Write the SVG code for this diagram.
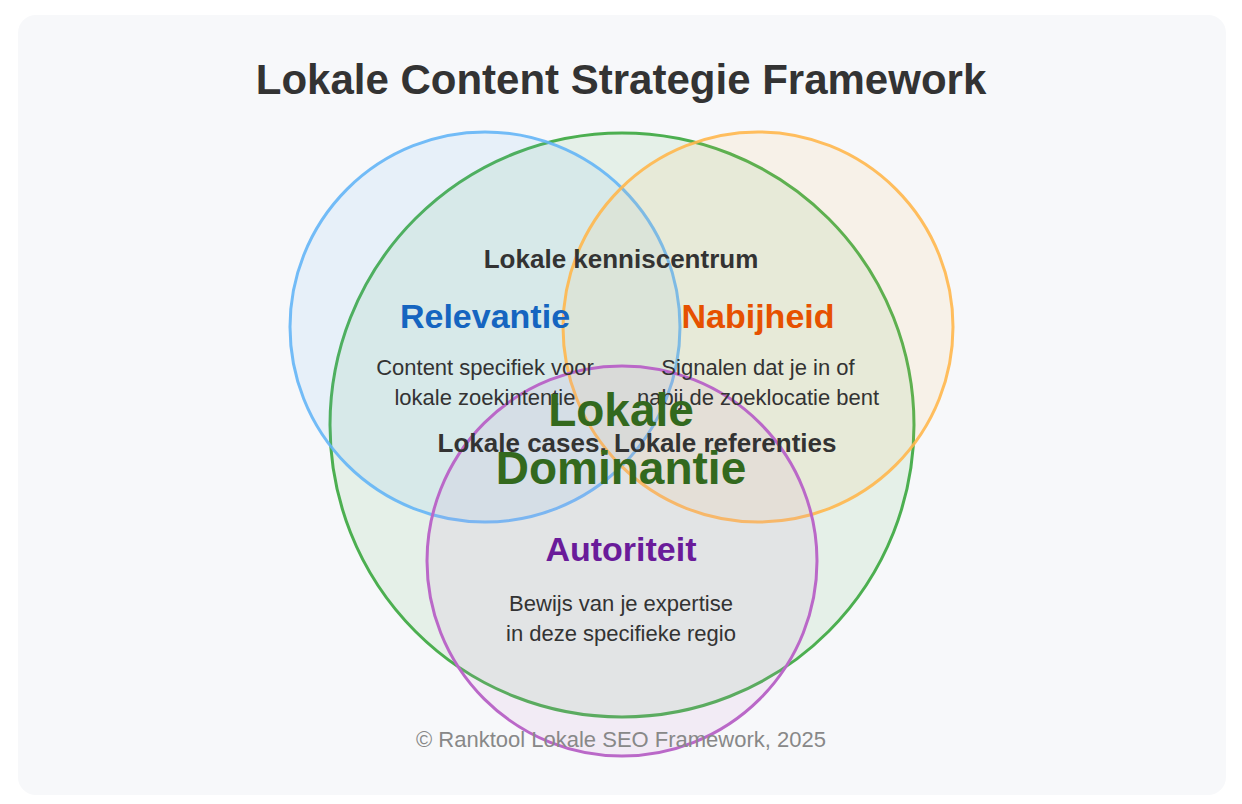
<svg xmlns="http://www.w3.org/2000/svg" width="1242" height="804" viewBox="0 0 1242 804">
<style>
text{font-family:"Liberation Sans",Arial,sans-serif;text-anchor:middle}
.c{stroke-width:3}
.h{font-size:34px;font-weight:bold}
.d{font-size:22px;fill:#333}
.z{font-size:26px;font-weight:bold;fill:#333}
.m{font-size:46px;font-weight:bold;fill:#33691e}
</style>
<rect x="18" y="15" width="1208" height="780" rx="18" fill="#f7f8fa"/>
<text x="621" y="94" font-size="42" font-weight="bold" fill="#333">Lokale Content Strategie Framework</text>
<g id="nodes">
<g id="n-dominantie"><circle class="c" cx="622" cy="425" r="292" fill="#4caf50" fill-opacity="0.1" stroke="#4caf50"/></g>
<g id="n-relevantie"><circle class="c" cx="485" cy="327" r="195" fill="#64b5f6" fill-opacity="0.1" stroke="#64b5f6" stroke-opacity="0.9"/></g>
<g id="n-nabijheid"><circle class="c" cx="758" cy="327" r="195" fill="#ffb74d" fill-opacity="0.1" stroke="#ffb74d" stroke-opacity="0.9"/></g>
<g id="n-autoriteit"><circle class="c" cx="622" cy="561" r="195" fill="#ce93d8" fill-opacity="0.12" stroke="#ba68c8"/></g>
</g>
<g id="connectors"></g>
<g id="labels">
<text class="z" x="621" y="268">Lokale kenniscentrum</text>
<text class="h" x="485" y="328" fill="#1565c0">Relevantie</text>
<text class="d" x="485" y="375">Content specifiek voor</text>
<text class="d" x="485" y="405">lokale zoekintentie</text>
<text class="h" x="758" y="328" fill="#e65100">Nabijheid</text>
<text class="d" x="758" y="375">Signalen dat je in of</text>
<text class="d" x="758" y="405">nabij de zoeklocatie bent</text>
<text class="z" x="637" y="452">Lokale cases, Lokale referenties</text>
<text class="m" x="621" y="426">Lokale</text>
<text class="m" x="621" y="484">Dominantie</text>
<text class="h" x="621" y="561" fill="#6a1b9a">Autoriteit</text>
<text class="d" x="621" y="611">Bewijs van je expertise</text>
<text class="d" x="621" y="641">in deze specifieke regio</text>
<text x="621" y="747" font-size="22" fill="#888">© Ranktool Lokale SEO Framework, 2025</text>
</g>
</svg>
